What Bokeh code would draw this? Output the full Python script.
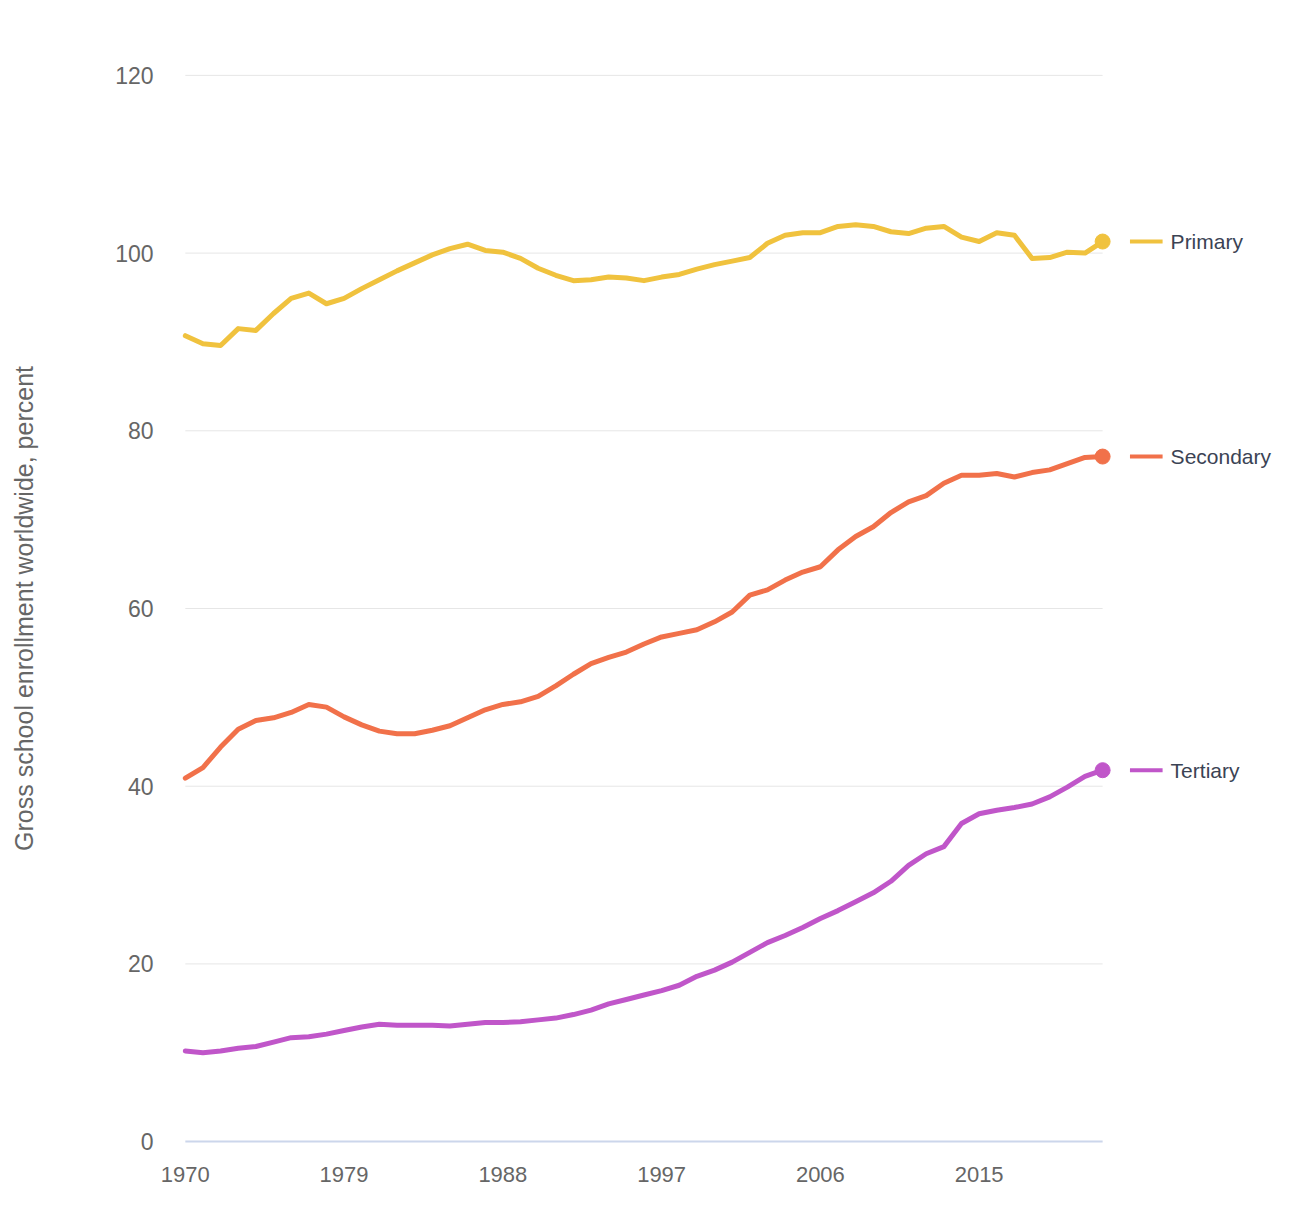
from bokeh.plotting import figure
from bokeh.models import Range1d, FixedTicker
from bokeh.core.properties import value
from bokeh.embed import file_html
from bokeh.resources import INLINE

# ---------------- data ----------------
years = list(range(1970, 2023))

primary = [
    90.7, 89.8, 89.6, 91.5, 91.3, 93.2, 94.9, 95.5, 94.3, 94.9,
    96.0, 97.0, 98.0, 98.9, 99.8, 100.5, 101.0, 100.3, 100.1, 99.4,
    98.3, 97.5, 96.9, 97.0, 97.3, 97.2, 96.9, 97.3, 97.6, 98.2,
    98.7, 99.1, 99.5, 101.1, 102.0, 102.3, 102.3, 103.0, 103.2, 103.0,
    102.4, 102.2, 102.8, 103.0, 101.8, 101.3, 102.3, 102.0, 99.4, 99.5,
    100.1, 100.0, 101.3,
]

secondary = [
    40.9, 42.1, 44.4, 46.4, 47.4, 47.7, 48.3, 49.2, 48.9, 47.8,
    46.9, 46.2, 45.9, 45.9, 46.3, 46.8, 47.7, 48.6, 49.2, 49.5,
    50.1, 51.3, 52.6, 53.8, 54.5, 55.1, 56.0, 56.8, 57.2, 57.6,
    58.5, 59.6, 61.5, 62.1, 63.2, 64.1, 64.7, 66.6, 68.1, 69.2,
    70.8, 72.0, 72.7, 74.1, 75.0, 75.0, 75.2, 74.8, 75.3, 75.6,
    76.3, 77.0, 77.1,
]

tertiary = [
    10.2, 10.0, 10.2, 10.5, 10.7, 11.2, 11.7, 11.8, 12.1, 12.5,
    12.9, 13.2, 13.1, 13.1, 13.1, 13.0, 13.2, 13.4, 13.4, 13.5,
    13.7, 13.9, 14.3, 14.8, 15.5, 16.0, 16.5, 17.0, 17.6, 18.6,
    19.3, 20.2, 21.3, 22.4, 23.2, 24.1, 25.1, 26.0, 27.0, 28.0,
    29.3, 31.1, 32.4, 33.2, 35.8, 36.9, 37.3, 37.6, 38.0, 38.8,
    39.9, 41.1, 41.8,
]

series_names = ["Primary", "Secondary", "Tertiary"]
series_values = [primary, secondary, tertiary]
series_colors = ["#F0C23E", "#F1714A", "#C056C9"]

x_ticks = [1970, 1979, 1988, 1997, 2006, 2015]
y_ticks = [0, 20, 40, 60, 80, 100, 120]
y_title = "Gross school enrollment worldwide, percent"

FONT = "Liberation Sans"

# ---------------- figure ----------------
# frame extends to the right edge so the end labels can be drawn in it
p = figure(
    width=1275, height=1190,
    x_range=Range1d(years[0] - 0.5, 2031.8),
    y_range=Range1d(-1, 121),
    output_backend="svg", toolbar_location=None,
    min_border_left=176, min_border_right=0,
    min_border_top=66, min_border_bottom=40,
)
p.outline_line_color = None
p.background_fill_color = "white"
p.border_fill_color = "white"
p.xgrid.visible = False
p.ygrid.visible = False

# horizontal grid lines spanning the data years
grid_vals = [v for v in y_ticks if v != 0]
p.segment(x0=[years[0]] * len(grid_vals), x1=[years[-1]] * len(grid_vals),
          y0=grid_vals, y1=grid_vals, line_color="#e6e6e6", line_width=1)
# baseline at 0
p.segment(x0=[years[0]], x1=[years[-1]], y0=[y_ticks[0]], y1=[y_ticks[0]],
          line_color="#ccd6eb", line_width=2)

# series
last_vals = []
for name, vals, col in zip(series_names, series_values, series_colors):
    p.line(years, vals, line_color=col, line_width=5,
           line_join="round", line_cap="round")
    p.scatter([years[-1]], [vals[-1]], size=15, marker="circle",
              fill_color=col, line_color=col)
    last_vals.append(vals[-1])

# end-of-line labels (legend marks + names)
n = len(series_names)
p.segment(x0=[years[-1] + 1.55] * n, x1=[years[-1] + 3.4] * n,
          y0=last_vals, y1=last_vals, line_color=series_colors, line_width=4)
p.text(x=[years[-1]] * n, y=last_vals, text=series_names, x_offset=68,
       text_font=value(FONT), text_font_size="21px", text_color="#3b4354",
       text_baseline="middle", text_align="left")

# axes
p.xaxis.ticker = FixedTicker(ticks=x_ticks)
p.yaxis.ticker = FixedTicker(ticks=y_ticks)
for ax in (p.xaxis[0], p.yaxis[0]):
    ax.axis_line_color = None
    ax.major_tick_line_color = None
    ax.minor_tick_line_color = None
    ax.major_label_text_font = FONT
    ax.major_label_text_color = "#666666"

p.xaxis.major_label_text_font_size = "22px"
p.yaxis.major_label_text_font_size = "23px"
p.xaxis.major_label_standoff = 10
p.yaxis.major_label_standoff = 17
p.yaxis.axis_label = y_title
p.yaxis.axis_label_text_font = FONT
p.yaxis.axis_label_text_font_size = "25px"
p.yaxis.axis_label_text_font_style = "normal"
p.yaxis.axis_label_text_color = "#666666"
p.yaxis.axis_label_standoff = 74

open("out.html", "w").write(file_html(p, INLINE))
